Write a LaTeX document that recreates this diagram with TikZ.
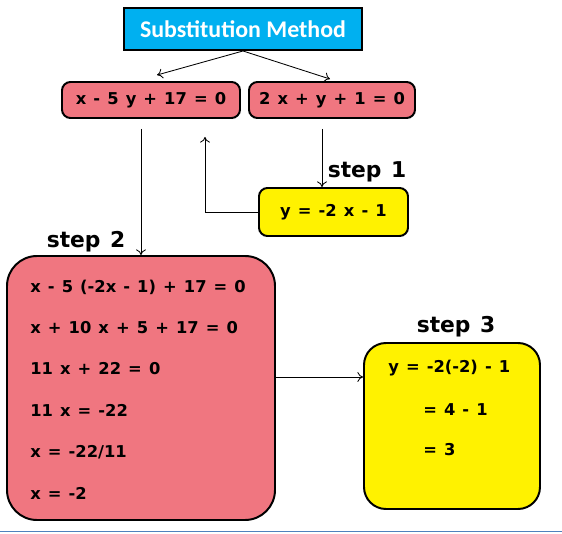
\documentclass[tikz,border=0pt]{standalone}
\usepackage{fontspec}
\usetikzlibrary{arrows.meta}
\setmainfont{DejaVu Sans}[WordSpace=1.25]
\newfontfamily\titlefont{Carlito}
\definecolor{salmon}{RGB}{240,118,128}
\definecolor{skyblue}{RGB}{0,176,240}
\definecolor{lineblue}{RGB}{79,129,189}
\tikzset{
  >={To[length=4pt,width=7pt]},
  eqbox/.style={draw=black,line width=1.4pt,fill=salmon,rounded corners=6pt,inner sep=0pt,minimum height=0.9cm,font=\bfseries\fontsize{11.6}{13}\selectfont},
  ybox/.style={draw=black,line width=1.4pt,fill=yellow,inner sep=0pt,font=\bfseries\fontsize{11.6}{13}\selectfont},
  eqline/.style={anchor=west,inner sep=0pt,font=\bfseries\fontsize{11.6}{13}\selectfont},
  steplabel/.style={inner sep=0pt,font=\bfseries\fontsize{15.5}{18}\selectfont}
}
\begin{document}
\begin{tikzpicture}
\useasboundingbox (0,0) rectangle (14.05,13.325);

\node[draw=black,line width=1.4pt,fill=skyblue,minimum width=5.95cm,minimum height=1.05cm,inner sep=0pt,text=white,font=\titlefont\bfseries\fontsize{17}{20}\selectfont] (title) at (6.075,12.6) {Substitution Method};

\node[eqbox,minimum width=4.45cm] (eq1) at (3.775,10.825) {x - 5 y + 17 = 0};
\node[eqbox,minimum width=4.15cm] (eq2) at (8.3,10.825)   {2 x + y + 1 = 0};

\node[ybox,rounded corners=6pt,minimum width=3.725cm,minimum height=1.2cm] (s1) at (8.3375,8.025) {y = -2 x - 1};
\node[steplabel] (st1) at (9.175,9.025) {step 1};

\node[draw=black,line width=1.4pt,fill=salmon,rounded corners=0.75cm,minimum width=6.7cm,minimum height=6.6cm] (s2) at (3.525,3.625) {};
\node[steplabel] (st2) at (2.15,7.275) {step 2};
\node[eqline] (l1) at (0.75,6.15)  {x - 5 (-2x - 1) + 17 = 0};
\node[eqline] (l2) at (0.75,5.125) {x + 10 x + 5 + 17 = 0};
\node[eqline] (l3) at (0.75,4.1)   {11 x + 22 = 0};
\node[eqline] (l4) at (0.75,3.075) {11 x = -22};
\node[eqline] (l5) at (0.75,2.025) {x = -22/11};
\node[eqline] (l6) at (0.75,1.0)   {x = -2};

\node[ybox,rounded corners=0.55cm,minimum width=4.4cm,minimum height=4.15cm] (s3) at (11.3,2.675) {};
\node[steplabel] (st3) at (11.4,5.15) {step 3};
\node[eqline] (r1) at (9.7,4.125)    {y = -2(-2) - 1};
\node[eqline] (r2) at (10.575,3.075) {= 4 - 1};
\node[eqline] (r3) at (10.575,2.075) {= 3};

\draw [->,semithick] (title.south) -- ([xshift=0.15cm,yshift=0.15cm]eq1.north);
\draw [->,semithick] (title.south) -- ([xshift=-0.05cm,yshift=0.05cm]eq2.north);
\draw [->,semithick] ([yshift=-0.25cm]eq1.south -| s2.north) -- (s2.north);
\draw [->,semithick] ([xshift=-0.25cm,yshift=-0.25cm]eq2.south) -- ([xshift=-0.25cm]eq2.south |- s1.north);
\draw [->,semithick] (s1.west) -| ([xshift=1.35cm,yshift=-0.45cm]eq1.south);
\draw [->,semithick] ([yshift=0.275cm]s2.east) -- ([yshift=0.275cm]s2.east -| s3.west);

\draw[lineblue,line width=0.8pt] (0,0.04) -- (14.05,0.04);
\end{tikzpicture}
\end{document}
